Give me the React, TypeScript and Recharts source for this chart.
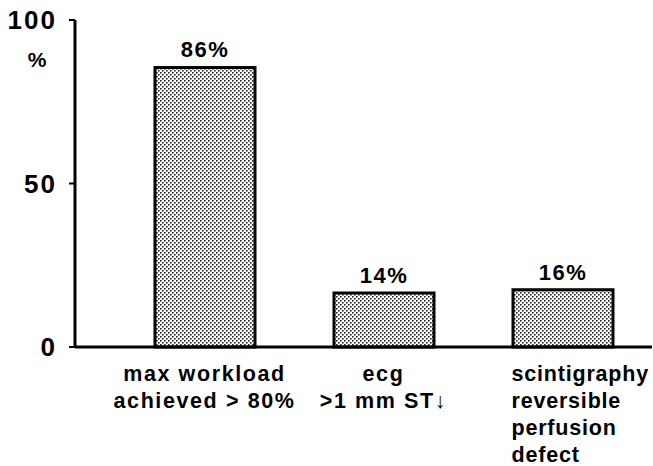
import React from "react";
import { BarChart, Bar, XAxis, YAxis, LabelList } from "recharts";

// bar heights as drawn, and the printed percentages above them
const categories = ["max workload|achieved > 80%", "ecg|>1 mm ST↓", "scintigraphy|reversible|perfusion|defect"];
const heights = [85.5, 16.5, 17.5];
const printed = ["86%", "14%", "16%"];
const yTicks = [0, 50, 100];

const data = categories.map((c, i) => ({ name: c, value: heights[i], label: printed[i] }));

const FONT = "'Liberation Sans', Arial, Helvetica, sans-serif";

const CategoryTick = (props: any) => {
  const { x, y, payload, index } = props;
  const lines: string[] = String(payload.value).split("|");
  const last = index === categories.length - 1;
  const tx = last ? x - 51 : x;
  return (
    <text
      x={tx}
      y={y}
      textAnchor={last ? "start" : "middle"}
      fontFamily={FONT}
      fontWeight="bold"
      fontSize={21.5}
      letterSpacing={last ? 0.8 : 1.6}
      fill="#000"
    >
      {lines.map((l, i) => (
        <tspan key={i} x={tx} dy={i === 0 ? 26 : 27}>
          {l}
        </tspan>
      ))}
    </text>
  );
};

const TopLabel = (props: any) => {
  const { x, y, width, index } = props;
  return (
    <text
      x={x + width / 2}
      y={y - 10}
      textAnchor="middle"
      fontFamily={FONT}
      fontWeight="bold"
      fontSize={22}
      letterSpacing={1.5}
      fill="#000"
    >
      {printed[index]}
    </text>
  );
};

export default function App() {
  return (
    <div style={{ position: "absolute", left: 0, top: 0, background: "#fff" }}>
      <BarChart
        width={653}
        height={466}
        data={data}
        margin={{ top: 20, right: 1, left: 0, bottom: 0 }}
        barSize={100}
      >
        <defs>
          <pattern id="stipple" width="4" height="4" patternUnits="userSpaceOnUse">
            <rect width="4" height="4" fill="#fff" />
            <rect x="0" y="0" width="1.6" height="1.6" fill="#222" />
            <rect x="2" y="2" width="1.6" height="1.6" fill="#222" />
          </pattern>
        </defs>
        <XAxis
          dataKey="name"
          height={119}
          padding={{ left: 40, right: 0 }}
          axisLine={{ stroke: "#000", strokeWidth: 3 }}
          tickLine={false}
          tick={<CategoryTick />}
          interval={0}
        />
        <YAxis
          width={75}
          domain={[0, 100]}
          ticks={yTicks}
          interval={0}
          axisLine={{ stroke: "#000", strokeWidth: 3 }}
          tickLine={{ stroke: "#000", strokeWidth: 2 }}
          tickSize={6}
          tickMargin={12}
          tick={{ fill: "#000", fontFamily: FONT, fontWeight: "bold", fontSize: 26, letterSpacing: 2 }}
          label={(p: any) => (
            <text
              x={p.viewBox.x + 37}
              y={p.viewBox.y + 47}
              textAnchor="middle"
              fontFamily={FONT}
              fontWeight="bold"
              fontSize={21}
              fill="#000"
            >
              %
            </text>
          )}
        />
        <Bar dataKey="value" fill="url(#stipple)" stroke="#000" strokeWidth={3} isAnimationActive={false}>
          <LabelList dataKey="label" content={<TopLabel />} />
        </Bar>
      </BarChart>
    </div>
  );
}
